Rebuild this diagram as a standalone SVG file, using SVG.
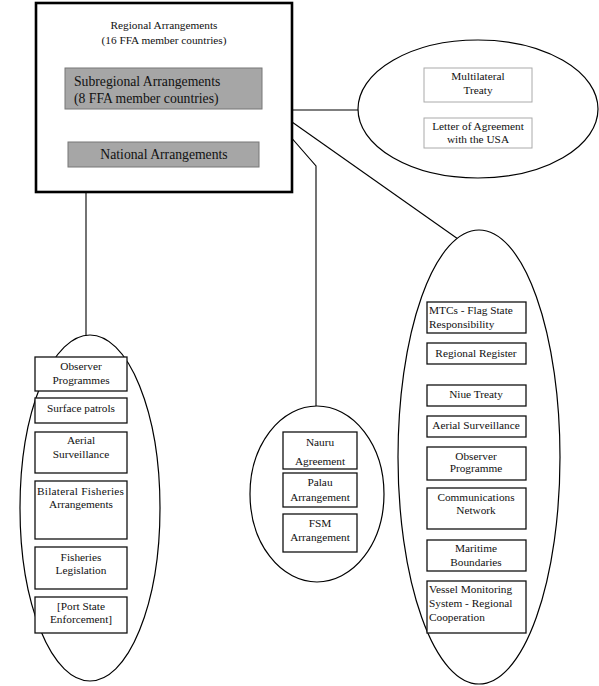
<svg xmlns="http://www.w3.org/2000/svg" width="599" height="686" viewBox="0 0 599 686" font-family="'Liberation Serif', 'DejaVu Serif', serif">
<style>
text{font-family:'Liberation Serif','DejaVu Serif',serif;font-size:11.3px;fill:#111}
.c{text-anchor:middle}
.big{font-size:13.7px}
.ell{fill:#fff;stroke:#000;stroke-width:1.2}
.box{fill:#fff;stroke:#111;stroke-width:1.3}
.lbox{fill:#fff;stroke:#aaa;stroke-width:1}
.gbox{fill:#a6a6a6;stroke:#777;stroke-width:1}
.conn line,.conn polyline{stroke:#000;stroke-width:1.1;fill:none}
</style>
<rect width="599" height="686" fill="#fff"/>
<g class="conn">
<line x1="86" y1="192" x2="86" y2="336"/>
<line x1="292" y1="110" x2="358" y2="110"/>
<polyline points="262,104 316,166 316,406"/>
<line x1="292" y1="122" x2="458" y2="239"/>
</g>
<g id="regional">
<rect x="36" y="3" width="256" height="189" fill="#fff" stroke="#000" stroke-width="2.6"/>
<text class="c" x="164" y="29">Regional Arrangements</text>
<text class="c" x="164" y="44">(16 FFA member countries)</text>
</g>
<g id="subregional">
<rect class="gbox" x="65" y="68" width="197" height="41"/>
<text class="big" x="74" y="86">Subregional Arrangements</text>
<text class="big" x="74" y="103">(8 FFA member countries)</text>
</g>
<g id="national">
<rect class="gbox" x="68" y="142" width="191" height="25"/>
<text class="big c" x="164" y="159">National Arrangements</text>
</g>
<g id="multilateral-group">
<ellipse class="ell" cx="478" cy="109" rx="120" ry="69"/>
<rect class="lbox" x="424" y="68" width="108" height="34"/>
<text class="c" x="478" y="80">Multilateral</text>
<text class="c" x="478" y="94">Treaty</text>
<rect class="lbox" x="424" y="118" width="108" height="30"/>
<text class="c" x="478" y="130">Letter of Agreement</text>
<text class="c" x="478" y="143">with the USA</text>
</g>
<g id="national-group">
<ellipse class="ell" cx="90" cy="508" rx="70" ry="173"/>
<rect class="box" x="35" y="357" width="92" height="34"/>
<text class="c" x="81" y="370">Observer</text>
<text class="c" x="81" y="384">Programmes</text>
<rect class="box" x="35" y="398" width="92" height="25"/>
<text class="c" x="81" y="412">Surface patrols</text>
<rect class="box" x="35" y="432" width="92" height="41"/>
<text class="c" x="81" y="444">Aerial</text>
<text class="c" x="81" y="458">Surveillance</text>
<rect class="box" x="35" y="481" width="92" height="58"/>
<text x="37" y="495" textLength="87" lengthAdjust="spacing">Bilateral  Fisheries</text>
<text class="c" x="81" y="508">Arrangements</text>
<rect class="box" x="35" y="547" width="92" height="42"/>
<text class="c" x="81" y="561">Fisheries</text>
<text class="c" x="81" y="574">Legislation</text>
<rect class="box" x="35" y="597" width="92" height="36"/>
<text class="c" x="81" y="610">[Port State</text>
<text class="c" x="81" y="623">Enforcement]</text>
</g>
<g id="subregional-group">
<ellipse class="ell" cx="317" cy="494" rx="67" ry="88"/>
<rect class="box" x="283" y="432" width="74" height="37"/>
<text class="c" x="320" y="446">Nauru</text>
<text class="c" x="320" y="465">Agreement</text>
<rect class="box" x="283" y="473" width="74" height="34"/>
<text class="c" x="320" y="486">Palau</text>
<text class="c" x="320" y="501">Arrangement</text>
<rect class="box" x="283" y="514" width="74" height="38"/>
<text class="c" x="320" y="527">FSM</text>
<text class="c" x="320" y="541">Arrangement</text>
</g>
<g id="regional-group">
<ellipse class="ell" cx="479" cy="457" rx="81" ry="227"/>
<rect class="box" x="427" y="302" width="99" height="31"/>
<text x="429" y="314">MTCs - Flag State</text>
<text x="429" y="328">Responsibility</text>
<rect class="box" x="427" y="343" width="99" height="21"/>
<text class="c" x="476" y="357">Regional Register</text>
<rect class="box" x="427" y="385" width="99" height="21"/>
<text class="c" x="476" y="398">Niue Treaty</text>
<rect class="box" x="427" y="416" width="99" height="21"/>
<text class="c" x="476" y="429">Aerial Surveillance</text>
<rect class="box" x="427" y="447" width="99" height="33"/>
<text class="c" x="476" y="460">Observer</text>
<text class="c" x="476" y="472">Programme</text>
<rect class="box" x="427" y="488" width="99" height="41"/>
<text class="c" x="476" y="501">Communications</text>
<text class="c" x="476" y="514">Network</text>
<rect class="box" x="427" y="540" width="99" height="31"/>
<text class="c" x="476" y="552">Maritime</text>
<text class="c" x="476" y="566">Boundaries</text>
<rect class="box" x="427" y="581" width="99" height="52"/>
<text x="429" y="593">Vessel Monitoring</text>
<text x="429" y="607">System - Regional</text>
<text x="429" y="621">Cooperation</text>
</g>
</svg>
